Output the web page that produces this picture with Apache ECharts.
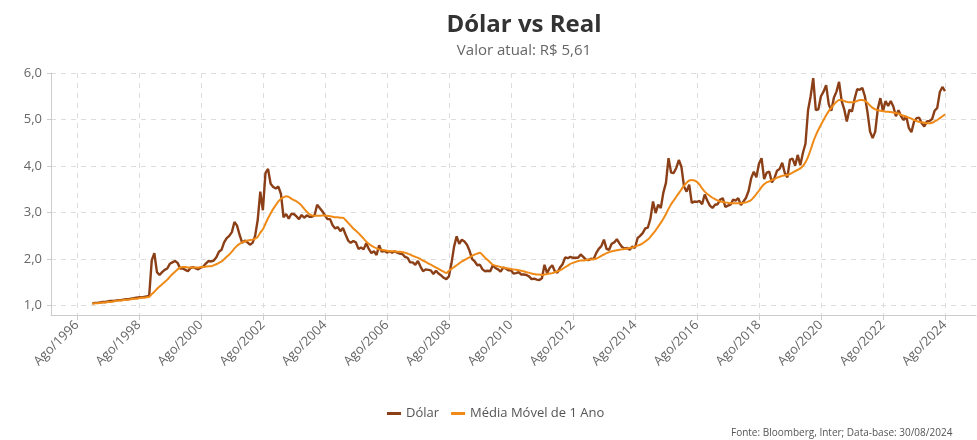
<!DOCTYPE html>
<html>
<head>
<meta charset="utf-8">
<script src="https://cdn.jsdelivr.net/npm/echarts@6/dist/echarts.min.js"></script>
<style>html,body{margin:0;padding:0;background:#fff;}#c{width:977px;height:440px;}</style>
</head>
<body>
<div id="c"></div>
<script>
// Month names (pt-BR) used to build monthly categories
var monthNames = ['Jan','Fev','Mar','Abr','Mai','Jun','Jul','Ago','Set','Out','Nov','Dez'];
var axisStart = [1995, 9];   // Out/1995 (month index 0-based)
var axisEnd = [2025, 7];     // Ago/2025
var tickYears = [1996,1998,2000,2002,2004,2006,2008,2010,2012,2014,2016,2018,2020,2022,2024];
var tickMonth = 'Ago';
var seriesStart = [1997, 1]; // Fev/1997

// Dólar (BRL per USD), monthly, from Fev/1997 to Ago/2024
var dolar = [
  1.05,1.06,1.06,1.07,1.08,1.08,1.09,1.10,1.10,1.11,1.12,
  1.12,1.13,1.14,1.14,1.15,1.16,1.17,1.18,1.18,1.19,1.20,1.21,
  1.98,2.13,1.72,1.66,1.72,1.77,1.80,1.90,1.93,1.96,1.92,1.80,
  1.80,1.77,1.74,1.81,1.83,1.80,1.78,1.82,1.84,1.91,1.96,1.95,
  1.97,2.04,2.16,2.20,2.36,2.45,2.50,2.58,2.80,2.72,2.52,2.35,
  2.40,2.36,2.31,2.35,2.50,2.84,3.45,3.05,3.85,3.94,3.62,3.55,
  3.52,3.56,3.40,2.90,2.97,2.87,2.97,2.97,2.92,2.86,2.95,2.89,
  2.94,2.91,2.91,2.94,3.17,3.10,3.03,2.94,2.86,2.86,2.73,2.66,
  2.69,2.60,2.67,2.53,2.40,2.35,2.39,2.36,2.22,2.25,2.21,2.34,
  2.22,2.13,2.17,2.09,2.30,2.16,2.18,2.14,2.17,2.14,2.17,2.14,
  2.12,2.11,2.05,2.03,1.93,1.93,1.88,1.96,1.84,1.74,1.78,1.77,
  1.76,1.68,1.75,1.69,1.65,1.60,1.57,1.63,1.91,2.27,2.49,2.33,
  2.42,2.38,2.31,2.18,2.00,1.95,1.87,1.88,1.78,1.74,1.75,1.74,
  1.87,1.81,1.78,1.73,1.82,1.80,1.76,1.76,1.69,1.70,1.72,1.67,
  1.67,1.66,1.63,1.57,1.58,1.56,1.55,1.59,1.88,1.70,1.81,1.87,
  1.74,1.71,1.82,1.89,2.04,2.02,2.05,2.03,2.03,2.03,2.10,2.05,
  1.99,1.98,2.01,2.00,2.13,2.22,2.28,2.42,2.22,2.20,2.33,2.36,
  2.43,2.34,2.26,2.23,2.24,2.20,2.27,2.24,2.45,2.50,2.56,2.66,
  2.68,2.87,3.24,2.99,3.17,3.10,3.43,3.64,4.17,3.86,3.85,3.96,
  4.13,3.98,3.56,3.45,3.60,3.21,3.24,3.23,3.25,3.18,3.39,3.26,
  3.15,3.10,3.17,3.18,3.28,3.31,3.12,3.15,3.17,3.28,3.26,3.31,
  3.16,3.24,3.32,3.47,3.74,3.88,3.76,4.05,4.17,3.72,3.86,3.88,
  3.65,3.74,3.90,3.94,4.07,3.85,3.76,4.14,4.16,4.01,4.24,4.02,
  4.28,4.48,5.20,5.50,5.89,5.20,5.22,5.50,5.60,5.74,5.33,5.19,
  5.47,5.60,5.81,5.40,5.22,4.96,5.21,5.17,5.44,5.65,5.64,5.68,
  5.50,5.16,4.74,4.60,4.74,5.23,5.46,5.18,5.40,5.29,5.40,5.28,
  5.07,5.20,5.07,4.99,5.07,4.82,4.73,4.95,5.03,5.04,4.92,4.85,
  4.96,4.97,5.01,5.19,5.25,5.59,5.70,5.61
];

// Média Móvel de 1 Ano, monthly, from Fev/1997 to Ago/2024
var mediaMovel = [
  1.04,1.05,1.05,1.06,1.07,1.07,1.08,1.08,1.09,1.10,1.11,
  1.11,1.12,1.13,1.13,1.14,1.15,1.15,1.16,1.17,1.17,1.18,1.19,
  1.25,1.30,1.36,1.41,1.46,1.51,1.56,1.62,1.68,1.73,1.78,1.82,
  1.83,1.83,1.82,1.82,1.82,1.82,1.82,1.83,1.83,1.84,1.85,1.85,
  1.87,1.89,1.92,1.95,2.00,2.05,2.10,2.16,2.23,2.29,2.33,2.36,
  2.38,2.40,2.41,2.42,2.44,2.48,2.57,2.64,2.76,2.88,2.98,3.08,
  3.16,3.24,3.30,3.33,3.35,3.34,3.30,3.27,3.24,3.20,3.15,3.08,
  3.02,2.97,2.94,2.93,2.93,2.93,2.94,2.94,2.93,2.92,2.91,2.90,
  2.90,2.89,2.89,2.84,2.78,2.72,2.66,2.61,2.56,2.50,2.44,2.38,
  2.33,2.29,2.26,2.23,2.21,2.20,2.19,2.18,2.17,2.17,2.17,2.16,
  2.16,2.15,2.14,2.12,2.10,2.07,2.05,2.03,2.00,1.97,1.94,1.91,
  1.88,1.85,1.82,1.79,1.76,1.73,1.70,1.75,1.79,1.83,1.87,1.91,
  1.95,1.98,2.01,2.04,2.07,2.10,2.12,2.14,2.09,2.03,1.98,1.93,
  1.88,1.86,1.85,1.83,1.82,1.81,1.80,1.79,1.78,1.77,1.76,1.75,
  1.74,1.72,1.71,1.69,1.68,1.67,1.67,1.66,1.67,1.68,1.69,1.70,
  1.72,1.74,1.76,1.79,1.83,1.86,1.90,1.92,1.94,1.96,1.97,1.97,
  1.98,1.99,1.99,2.00,2.01,2.04,2.07,2.10,2.13,2.15,2.17,2.18,
  2.19,2.20,2.21,2.22,2.23,2.24,2.25,2.27,2.29,2.31,2.34,2.38,
  2.42,2.48,2.55,2.62,2.70,2.78,2.87,2.97,3.08,3.18,3.26,3.34,
  3.42,3.50,3.58,3.64,3.69,3.70,3.69,3.66,3.60,3.52,3.45,3.40,
  3.36,3.32,3.29,3.26,3.24,3.23,3.22,3.21,3.20,3.20,3.20,3.20,
  3.20,3.21,3.22,3.24,3.27,3.33,3.40,3.47,3.55,3.61,3.65,3.67,
  3.70,3.72,3.75,3.77,3.79,3.80,3.81,3.83,3.86,3.89,3.92,3.95,
  4.00,4.08,4.20,4.35,4.52,4.66,4.78,4.89,4.99,5.09,5.18,5.25,
  5.32,5.38,5.42,5.42,5.40,5.38,5.37,5.37,5.38,5.40,5.42,5.42,
  5.40,5.36,5.30,5.25,5.22,5.20,5.19,5.18,5.17,5.17,5.16,5.15,
  5.14,5.13,5.10,5.08,5.06,5.04,5.02,4.99,4.97,4.95,4.94,4.93,
  4.92,4.92,4.93,4.96,4.99,5.03,5.07,5.11
];

function monthLabel(y, m) { return monthNames[m] + '/' + y; }

var categories = [];
(function () {
  var y = axisStart[0], m = axisStart[1];
  while (y < axisEnd[0] || (y === axisEnd[0] && m <= axisEnd[1])) {
    categories.push(monthLabel(y, m));
    m++; if (m > 11) { m = 0; y++; }
  }
})();

function toPairs(values) {
  var out = [];
  var y = seriesStart[0], m = seriesStart[1];
  for (var i = 0; i < values.length; i++) {
    out.push([monthLabel(y, m), values[i]]);
    m++; if (m > 11) { m = 0; y++; }
  }
  return out;
}

var tickSet = {};
tickYears.forEach(function (y) { tickSet[tickMonth + '/' + y] = true; });
function isTick(idx, val) { return !!tickSet[val]; }

var FONT = 'Open Sans';
var chart = echarts.init(document.getElementById('c'), null, { renderer: 'canvas' });
chart.setOption({
  backgroundColor: '#ffffff',
  animation: false,
  textStyle: { fontFamily: FONT },
  title: {
    text: 'Dólar vs Real',
    subtext: 'Valor atual: R$ 5,61',
    left: 519,
    textAlign: 'center',
    top: 8,
    itemGap: 6,
    textStyle: { fontFamily: FONT, fontSize: 24, fontWeight: 'bold', color: '#333333' },
    subtextStyle: { fontFamily: FONT, fontSize: 15, color: '#666666' }
  },
  legend: {
    data: ['Dólar', 'Média Móvel de 1 Ano'],
    left: 382,
    top: 402,
    icon: 'rect',
    itemWidth: 14,
    itemHeight: 3,
    itemGap: 12,
    textStyle: { fontFamily: FONT, fontSize: 13, color: '#555555' }
  },
  grid: { left: 51, right: 1, top: 73, bottom: 125, containLabel: false },
  xAxis: {
    type: 'category',
    data: categories,
    boundaryGap: false,
    axisLine: { show: true, lineStyle: { color: '#cccccc' } },
    axisTick: { show: true, interval: isTick, length: 5, lineStyle: { color: '#cccccc' } },
    axisLabel: {
      interval: isTick,
      rotate: 45,
      margin: 8,
      fontFamily: FONT,
      fontSize: 13,
      color: '#666666'
    },
    splitLine: { show: true, interval: isTick, lineStyle: { color: '#dddddd', type: [5, 5], width: 1 } }
  },
  yAxis: {
    type: 'value',
    min: 0.8,
    max: 6.0,
    axisLine: { show: true, lineStyle: { color: '#cccccc' } },
    axisTick: { show: true, length: 4, lineStyle: { color: '#cccccc' } },
    axisLabel: {
      showMinLabel: false,
      fontFamily: FONT,
      fontSize: 13,
      color: '#666666',
      margin: 9,
      formatter: function (v) { return v.toFixed(1).replace('.', ','); }
    },
    splitLine: { show: true, lineStyle: { color: '#dddddd', type: [5, 5], width: 1 } }
  },
  series: [
    {
      name: 'Dólar',
      type: 'line',
      data: toPairs(dolar),
      showSymbol: false,
      symbol: 'none',
      lineStyle: { color: '#8b3f17', width: 2.4 },
      itemStyle: { color: '#8b3f17' }
    },
    {
      name: 'Média Móvel de 1 Ano',
      type: 'line',
      data: toPairs(mediaMovel),
      showSymbol: false,
      symbol: 'none',
      smooth: 0.3,
      lineStyle: { color: '#f08a17', width: 2 },
      itemStyle: { color: '#f08a17' }
    }
  ],
  graphic: [
    {
      type: 'text',
      left: 731,
      top: 428,
      style: {
        text: 'Fonte: Bloomberg, Inter; Data-base: 30/08/2024',
        fontFamily: FONT,
        fontSize: 10,
        fill: '#555555'
      }
    }
  ]
});
</script>
</body>
</html>
